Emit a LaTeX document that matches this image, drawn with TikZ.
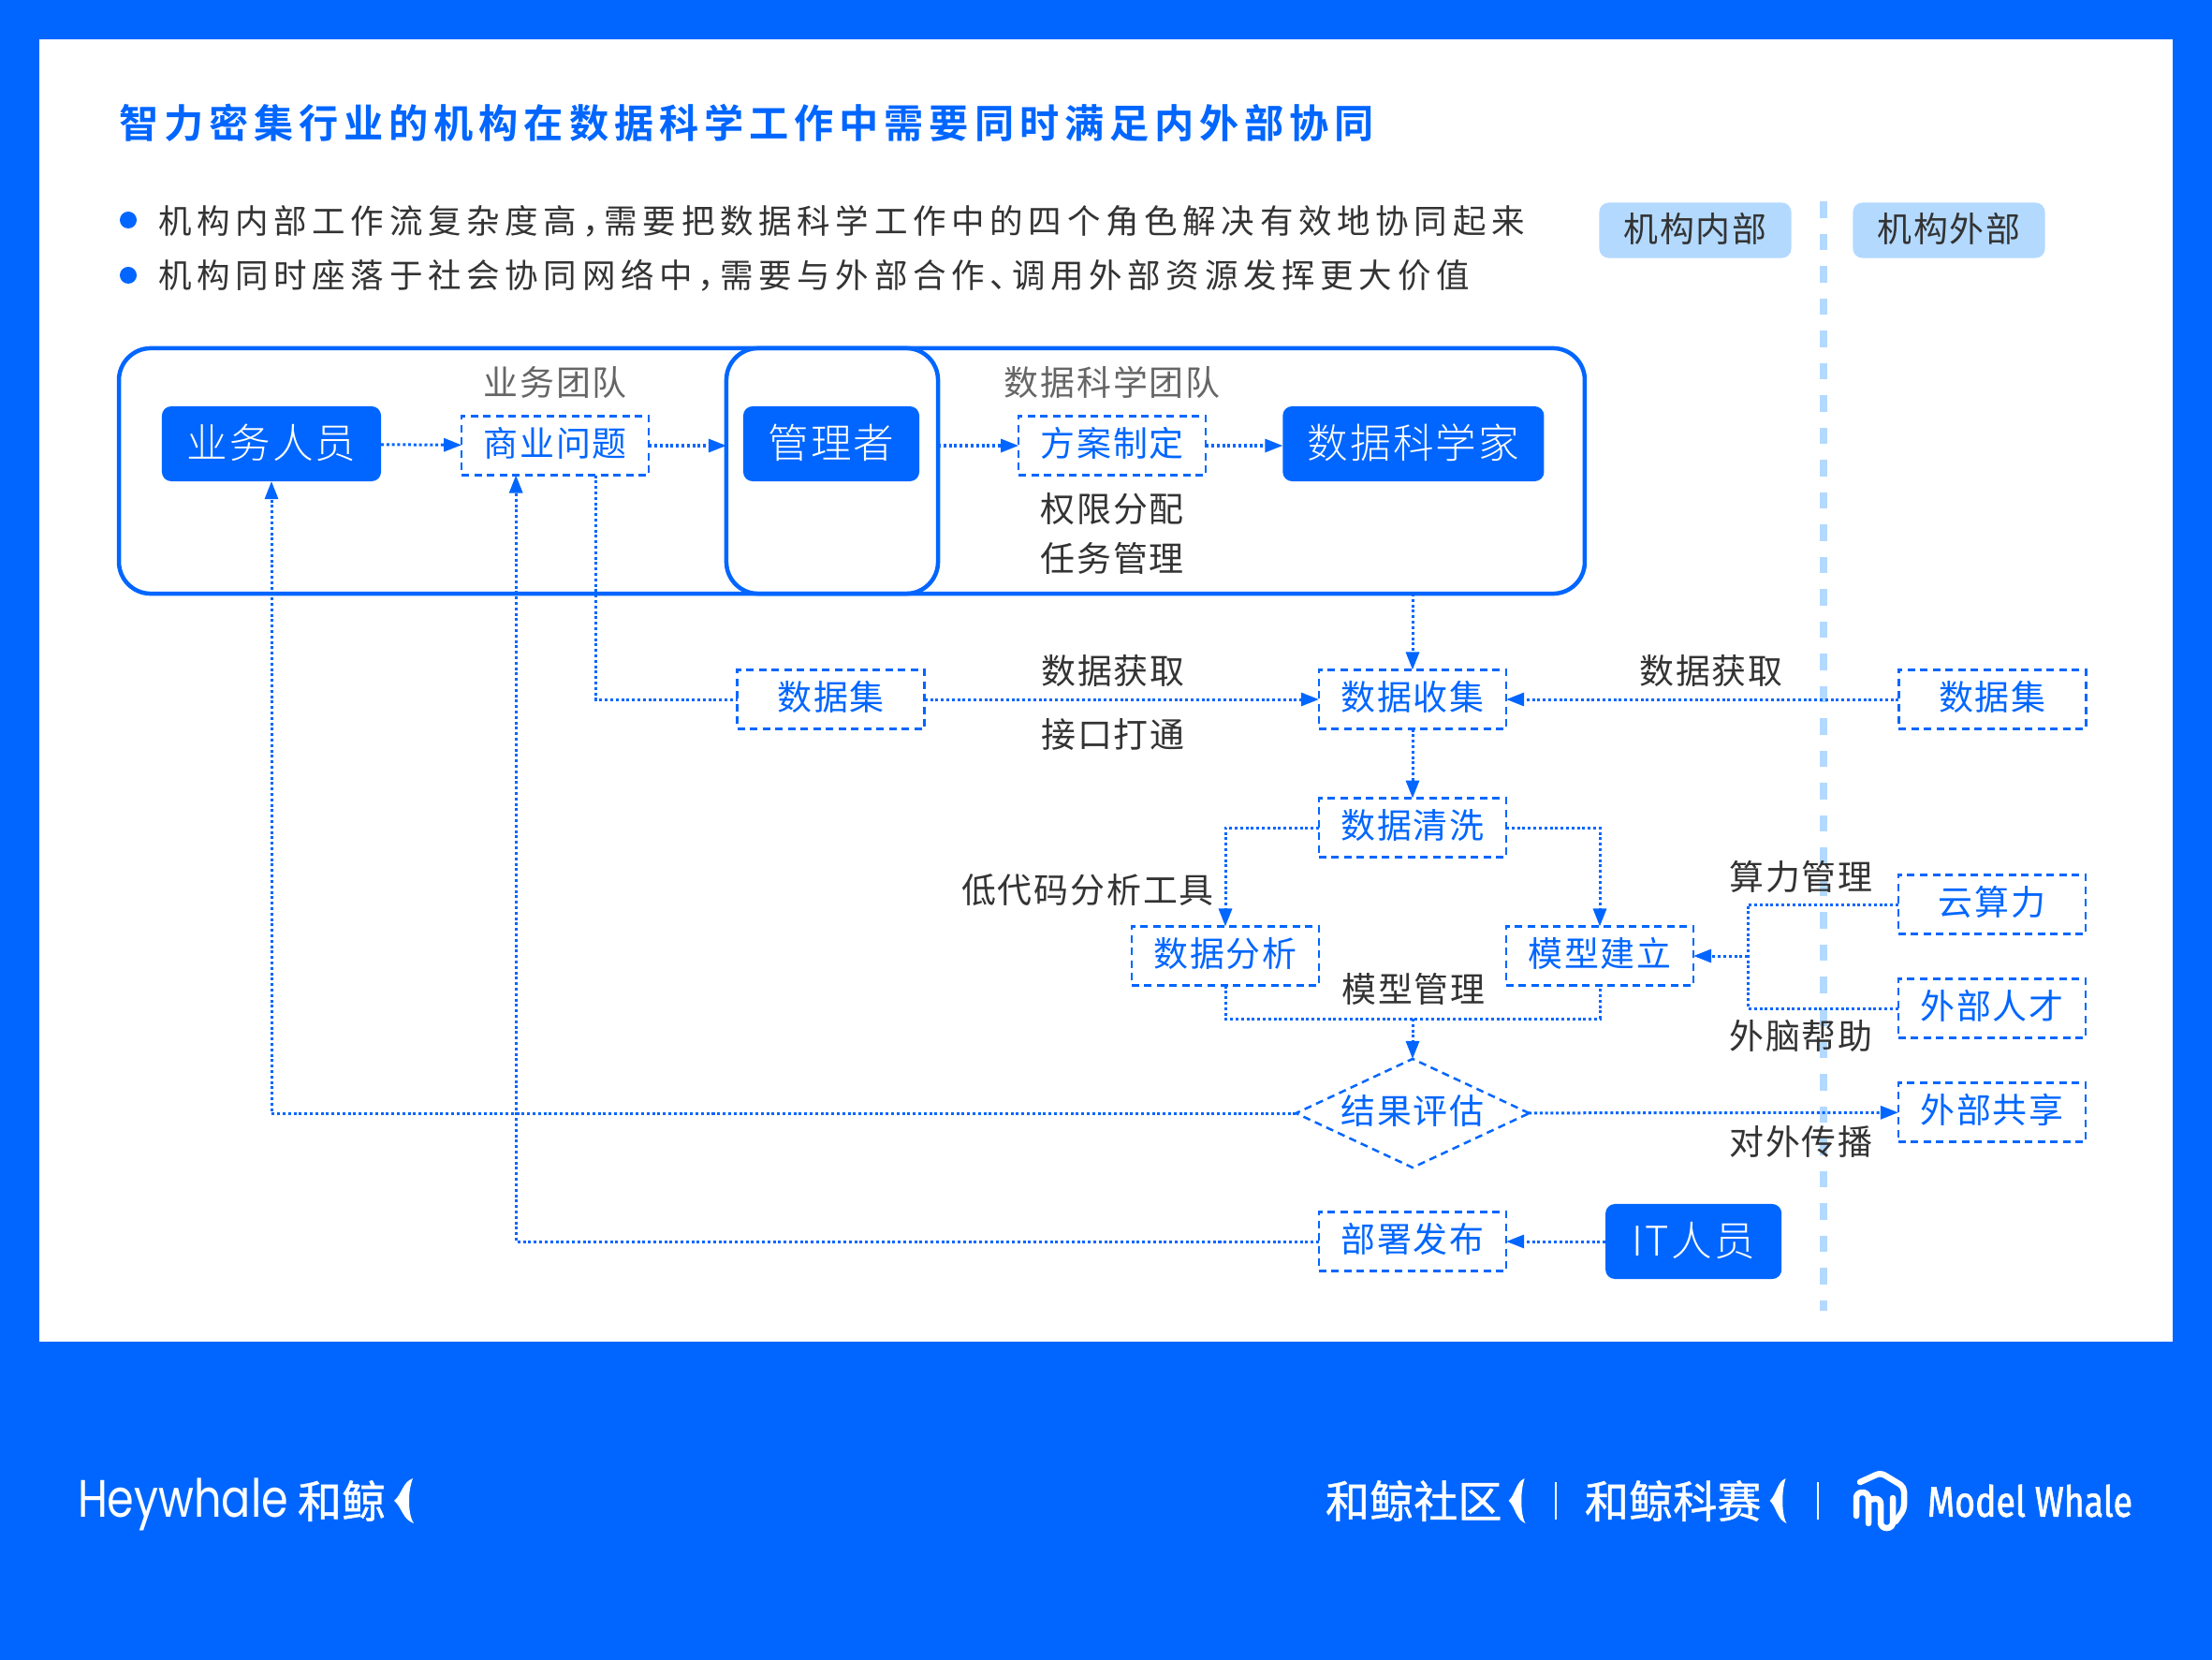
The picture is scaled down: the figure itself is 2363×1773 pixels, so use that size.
\documentclass[tikz,border=0pt]{standalone}
\usepackage{fontspec}
\usetikzlibrary{arrows.meta,positioning,shapes.geometric}
\setmainfont{Noto Sans CJK SC}
\newfontfamily\tracked[LetterSpace=5,Script=CJK]{Noto Sans CJK SC}
\newfontfamily\lighter[LetterSpace=5,Script=CJK]{Noto Sans CJK SC Light}
\newfontfamily\wide[LetterSpace=16,Script=CJK,RawFeature=+halt]{Noto Sans CJK SC}
\newfontfamily\headline[LetterSpace=14,Script=CJK]{Noto Sans CJK SC Bold}
\newfontfamily\footcjk[FakeBold=1]{Noto Sans CJK SC}
\newfontfamily\latinlogo[FakeStretch=.82]{Poppins}
\newfontfamily\modellogo[FakeStretch=.82,FakeBold=1.5]{Fira Sans}
\newcommand{\sz}[1]{\fontsize{#1}{#1}\selectfont}
\definecolor{brand}{HTML}{0066FF}
\definecolor{pale}{HTML}{B3D9FF}
\definecolor{ink}{HTML}{333333}
\definecolor{muted}{HTML}{666666}

\begin{document}
\begin{tikzpicture}[x=.01cm,y=-.01cm,>={Triangle[length=.19cm,width=.14cm]},
 every node/.style={outer sep=0pt},
 dashbox/.style={draw=brand,line width=.025cm,dash pattern=on .08cm off .055cm,text=brand,
 minimum width=2cm,minimum height=.63cm,inner sep=0pt,text height=.29cm,text depth=.06cm,font=\tracked\sz{10.5}},
 fillbox/.style={fill=brand,rounded corners=.1cm,text=white,minimum height=.8cm,
 inner sep=0pt,text height=.36cm,text depth=.06cm,font=\lighter\sz{12.4}},
 frame/.style={draw=brand,line width=.045cm,rounded corners=.34cm,inner sep=0pt},
 lbl/.style={text=ink,inner sep=0pt,text height=.3cm,text depth=.05cm,font=\tracked\sz{10.5}},
 team/.style={lbl,text=muted},
 badge/.style={fill=pale,rounded corners=.1cm,text=ink,minimum width=2.05cm,minimum height=.59cm,
 inner sep=0pt,text height=.3cm,text depth=.05cm,font=\tracked\sz{10.5}},
 bullet/.style={text=ink,anchor=west,inner sep=0pt,font=\wide\sz{10.1}},
 dot/.style={circle,fill=brand,minimum size=.18cm,inner sep=0pt},
 flow/.style={draw=brand,line width=.03cm,dash pattern=on .03cm off .028cm},
 foot/.style={text=white,anchor=west,inner sep=0pt,font=\footcjk\sz{13.4}},
 tail/.pic={\fill[white] (9,-24) .. controls (-2,-20) and (-2,-8) .. (-11,0)
  .. controls (-3,6) and (-2,20) .. (10,24) .. controls (6,18) and (5,8) .. (5,0)
  .. controls (5,-8) and (6,-16) .. (9,-24) -- cycle;}]
\useasboundingbox (0,0) rectangle (2363,1773);
\fill[brand] (0,0) rectangle (2363,1773);
\fill[white] (42,42) rectangle (2321,1433);

\draw[pale,line width=.08cm,dash pattern=on .175cm off .17cm] (1948,215)--(1948,1400);

\node[anchor=west,inner sep=0pt,text=brand,font=\headline\sz{12}] (title) at (127,131)
 {智力密集行业的机构在数据科学工作中需要同时满足内外部协同};
\node[dot] (dota) at (137,235) {};
\node[dot] (dotb) at (137,294) {};
\node[bullet] (linea) at (169,236) {机构内部工作流复杂度高，需要把数据科学工作中的四个角色解决有效地协同起来};
\node[bullet] (lineb) at (169,294) {机构同时座落于社会协同网络中，需要与外部合作、调用外部资源发挥更大价值};
\node[badge] (inside) at (1811,246) {机构内部};
\node[badge] (outside) at (2082,246) {机构外部};

\node[frame,minimum width=15.65cm,minimum height=2.62cm] (org) at (910,503) {};
\node[frame,minimum width=2.26cm,minimum height=2.62cm] (mgrframe) at (889,503) {};

\node[fillbox,minimum width=2.34cm] (staff) at (290,474) {业务人员};
\node[dashbox,right=.86cm of staff,yshift=-.02cm] (problem) {商业问题};
\node[fillbox,minimum width=1.88cm] (mgr) at (888,474) {管理者};
\node[dashbox,right=1.06cm of mgr,yshift=-.02cm] (plan) {方案制定};
\node[fillbox,minimum width=2.79cm,right=.82cm of plan,yshift=.02cm] (sci) {数据科学家};
\node[team,above=.17cm of problem] (bizteam) {业务团队};
\node[team,above=.17cm of plan] (dsteam) {数据科学团队};
\node[lbl,below=.2cm of plan] (perm) {权限分配};
\node[lbl,below=.18cm of perm] (task) {任务管理};

\node[dashbox] (collect) at (1509,747) {数据收集};
\node[dashbox,left=4.21cm of collect] (setin) {数据集};
\node[dashbox,right=4.19cm of collect] (setout) {数据集};
\node[lbl] (getin) at (1189,718) {数据获取};
\node[lbl] (iface) at (1189,786) {接口打通};
\node[lbl] (getout) at (1828,718) {数据获取};

\node[dashbox,below=.74cm of collect] (clean) {数据清洗};
\node[dashbox] (analyse) at (1309,1021) {数据分析};
\node[dashbox] (model) at (1709,1021) {模型建立};
\node[dashbox] (cloud) at (2128,966) {云算力};
\node[dashbox,below=.48cm of cloud] (talent) {外部人才};
\node[dashbox,below=.48cm of talent] (share) {外部共享};
\node[dashbox,diamond,aspect=2.15,minimum width=2.49cm,minimum height=1.16cm] (judge) at (1509,1189) {结果评估};
\node[dashbox] (deploy) at (1509,1326) {部署发布};
\node[fillbox,minimum width=1.88cm,right=1.06cm of deploy] (itstaff) {IT人员};

\node[lbl] (lowcode) at (1162,952) {低代码分析工具};
\node[lbl] (modelmgr) at (1510,1058) {模型管理};
\node[lbl] (power) at (1924,938) {算力管理};
\node[lbl] (brain) at (1924,1108) {外脑帮助};
\node[lbl] (spread) at (1924,1221) {对外传播};

\coordinate (merge) at (1509,1088);
\coordinate[right=.58cm of model] (join);

\draw[flow,->] (staff)--(problem);
\draw[flow,->] (problem.east)--(problem.east-|mgrframe.west);
\draw[flow,->] (mgrframe.east|-plan)--(plan);
\draw[flow,->] (plan)--(plan-|sci.west);
\draw[flow,->] (collect|-org.south)--(collect);
\draw[flow] ([xshift=.43cm]problem.south) |- (setin);
\draw[flow,->] (setin)--(collect);
\draw[flow,->] (setout)--(collect);
\draw[flow,->] (collect)--(clean);
\draw[flow,->] (clean) -| (analyse);
\draw[flow,->] (clean) -| (model);
\draw[flow] (analyse) |- (merge) -| (model);
\draw[flow,->] (merge)--(judge);
\draw[flow] (cloud) -| (join) |- (talent);
\draw[flow,->] (join)--(model);
\draw[flow,->] (judge) -| (staff);
\draw[flow,->] (judge)--(share);
\draw[flow,->] (itstaff)--(deploy);
\draw[flow,->] (deploy) -| ([xshift=-.42cm]problem.south);

\node[foot,font=\latinlogo\sz{16}] (heywhale) at (83,1607) {Heywhale};
\node[foot] (hejing) at (318,1603) {和鲸};
\pic at (432,1603) {tail};
\node[foot] (community) at (1416,1603) {和鲸社区};
\pic[xscale=.85] at (1621,1603) {tail};
\draw[white,line width=.012cm] (1662,1583)--(1662,1623);
\node[foot] (contest) at (1693,1603) {和鲸科赛};
\pic[xscale=.85] at (1900,1603) {tail};
\draw[white,line width=.012cm] (1942,1583)--(1942,1623);
\draw[white,line width=.065cm,line cap=round,line join=round,rounded corners=.05cm]
 (1987,1583)--(2009,1573)--(2034,1588)--(2034,1612)--(2025,1625);
\draw[white,line width=.065cm,line cap=round,line join=round,rounded corners=.06cm]
 (1983,1619)--(1983,1594)--(1996,1594)--(1996,1627);
\draw[white,line width=.065cm,line cap=round,line join=round,rounded corners=.06cm]
 (1996,1602)--(2009,1600)--(2009,1632)--(2022,1632)--(2022,1600);
\node[foot,font=\modellogo\sz{13}] (modelwhale) at (2059,1603) {Model Whale};
\end{tikzpicture}
\end{document}
